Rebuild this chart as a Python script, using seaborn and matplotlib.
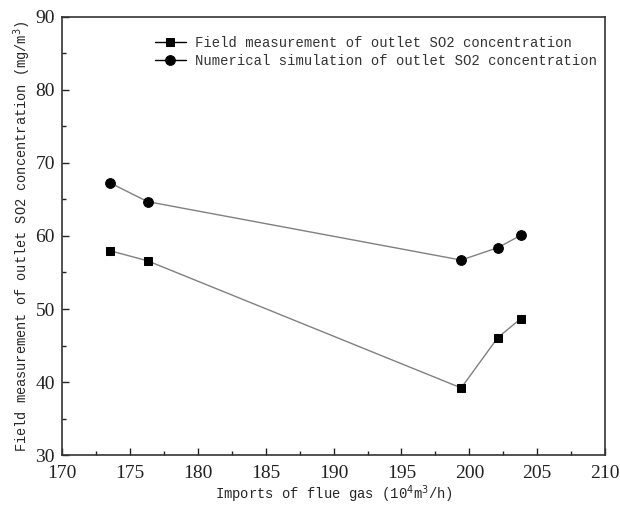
import matplotlib
matplotlib.use("Agg")
import matplotlib.pyplot as plt
import seaborn as sns
import pandas as pd
from matplotlib.ticker import MultipleLocator

# flue gas inlet volume (10^4 m3/h)
flue_gas = [173.5, 176.3, 199.4, 202.1, 203.8]
field_so2 = [58.0, 56.6, 39.2, 46.1, 48.7]
simulated_so2 = [67.3, 64.7, 56.7, 58.4, 60.1]

series_names = ["Field measurement of outlet SO2 concentration",
                "Numerical simulation of outlet SO2 concentration"]

df = pd.concat([
    pd.DataFrame({"x": flue_gas, "y": field_so2, "series": series_names[0]}),
    pd.DataFrame({"x": flue_gas, "y": simulated_so2, "series": series_names[1]}),
])

sns.set_style("ticks")
plt.rcParams['font.family'] = ['Liberation Serif', 'DejaVu Serif']

fig, ax = plt.subplots(figsize=(6.2, 5.08), dpi=100)
fig.subplots_adjust(left=0.1, right=0.976, top=0.967, bottom=0.104)

sns.lineplot(data=df, x="x", y="y", hue="series", style="series",
             markers={series_names[0]: "s", series_names[1]: "o"},
             dashes=False, palette=["#808080", "#808080"], linewidth=1,
             markersize=6.2, markerfacecolor="black", markeredgecolor="black",
             ax=ax)
# circles look a bit bigger than squares in the original
for line in ax.lines:
    if line.get_marker() == "o":
        line.set_markersize(7)

ax.set_xlim(170, 210)
ax.set_ylim(30, 90)
ax.xaxis.set_major_locator(MultipleLocator(5))
ax.xaxis.set_minor_locator(MultipleLocator(2.5))
ax.yaxis.set_major_locator(MultipleLocator(10))
ax.yaxis.set_minor_locator(MultipleLocator(5))
ax.tick_params(which="both", direction="in", top=False, right=False, labelsize=14, colors="#222222")
ax.tick_params(axis="x", which="major", pad=7)
ax.tick_params(axis="y", which="major", pad=5)
ax.tick_params(which="major", length=5, width=1)
ax.tick_params(which="minor", length=3, width=1)
for sp in ax.spines.values():
    sp.set_color("#333333")
    sp.set_linewidth(1.2)

mono = ['Liberation Mono', 'DejaVu Sans Mono']
ax.set_xlabel("Imports of flue gas (10$^4$m$^3$/h)", family=mono, fontsize=10, labelpad=1)
ax.set_ylabel("Field measurement of outlet SO2 concentration (mg/m$^3$)", family=mono,
              fontsize=9.8, labelpad=2)

handles, labels = ax.get_legend_handles_labels()
for h in handles:
    h.set_color("black")
    h.set_markerfacecolor("black")
leg = ax.legend(handles, labels, loc="upper right", bbox_to_anchor=(1.0, 0.975),
                frameon=False, prop={"family": mono, "size": 10}, handlelength=2.3,
                borderaxespad=0.2, labelspacing=0.25, handletextpad=0.6)
for t in leg.get_texts():
    t.set_color("#333333")

fig.savefig("out.png", dpi=100)
